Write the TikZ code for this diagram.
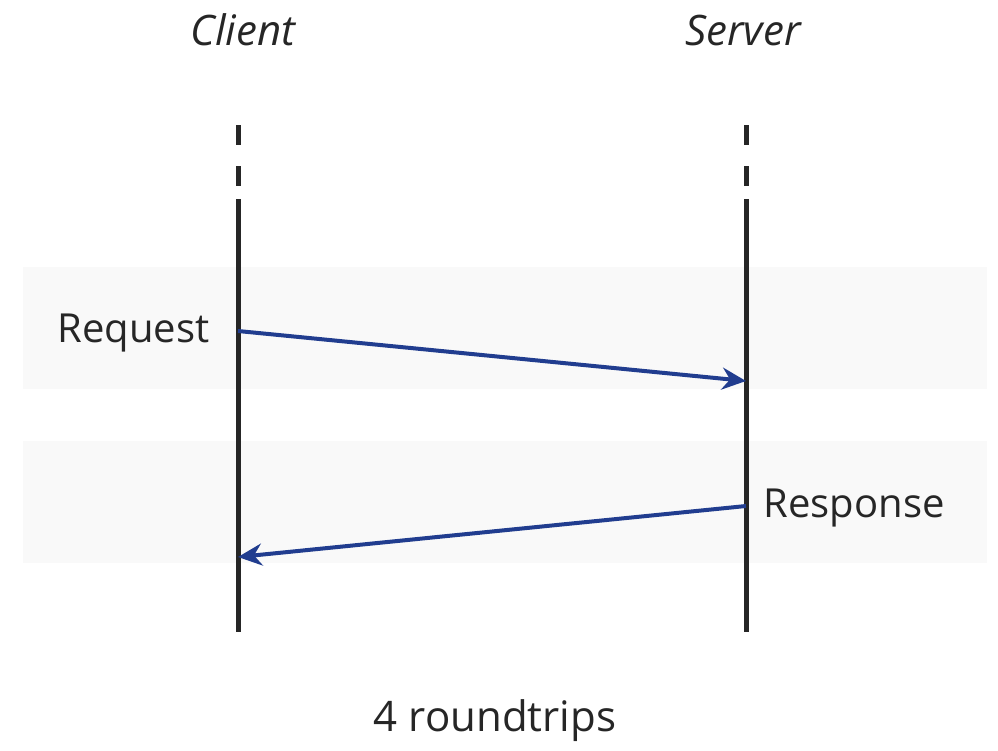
\documentclass[tikz,border=0pt]{standalone}
\usepackage{fontspec}
\setmainfont{Open Sans}
\usetikzlibrary{arrows.meta, calc}

\definecolor{msgblue}{HTML}{213D8F}
\definecolor{lifegray}{HTML}{262626}
\definecolor{bandgray}{HTML}{F9F9F9}

\tikzset{
  lifeline/.style={line width=5pt, color=lifegray},
  msg/.style={line width=4pt, color=msgblue, -{Stealth[length=24pt, width=22pt, inset=8pt]}},
  band/.style={fill=bandgray, draw=none},
  actor/.style={font=\fontsize{42}{46}\selectfont\itshape, text=black!85},
  lbl/.style={font=\fontsize{40}{44}\selectfont, text=black!85}
}

\begin{document}
\begin{tikzpicture}[x=1pt, y=-1pt]
  \useasboundingbox (0,0) rectangle (998,750);

  % shaded rows
  \fill[band] (23,267) rectangle (987,389);
  \fill[band] (23,441) rectangle (987,563);

  % actors
  \node[actor] (client) at (243,30) {Client};
  \node[actor] (server) at (743,30) {Server};

  \coordinate (ctop) at (238,125);
  \coordinate (cbot) at (238,632);
  \coordinate (stop) at (746,125);
  \coordinate (sbot) at (746,632);

  % lifelines
  \foreach \l in {c, s} {
    \draw[lifeline, dash pattern=on 20pt off 21pt] (\l top) -- ++(0,74);
    \draw[lifeline] ($(\l top)+(0,74)$) -- (\l bot);
  }

  % messages
  \coordinate (req) at (238,331);
  \coordinate (reqend) at (746,381);
  \coordinate (resp) at (746,506);
  \coordinate (respend) at (238,557);
  \draw[msg] (req) -- (reqend);
  \draw[msg] (resp) -- (respend);

  \node[lbl, anchor=east] (reqlbl) at (213,333) {Request};
  \node[lbl, anchor=west] (resplbl) at (760,508) {Response};

  \node[lbl, font=\fontsize{42}{46}\selectfont] (trips) at (495,721) {4 roundtrips};
\end{tikzpicture}
\end{document}
